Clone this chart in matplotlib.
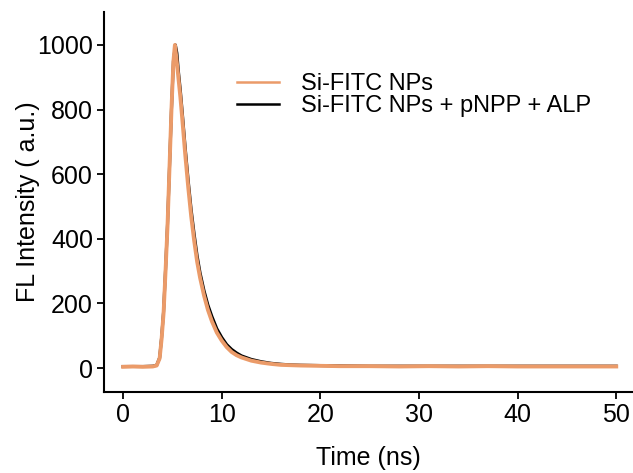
import matplotlib
matplotlib.use("Agg")
import matplotlib.pyplot as plt

plt.rcParams['font.family'] = ['Liberation Sans', 'DejaVu Sans']

# Time axis (ns)
t_orange = [0, 1, 2, 3, 3.4, 3.7, 3.9, 4.1, 4.3, 4.5, 4.7, 4.9, 5.1, 5.25, 5.4, 5.6,
            5.8, 6.0, 6.3, 6.6, 6.9, 7.2, 7.5, 7.8, 8.2, 8.6, 9.0, 9.5, 10, 10.5, 11,
            11.5, 12, 13, 14, 15, 16, 17, 18, 20, 22, 25, 28, 31, 34, 37, 40, 43, 46, 49, 50]
y_orange = [4, 5, 4, 5, 8, 30, 90, 170, 300, 440, 620, 800, 950, 1000, 960, 900,
            840, 770, 660, 560, 470, 395, 330, 280, 225, 180, 145, 110, 85, 65, 50,
            40, 33, 23, 17, 13, 10, 9, 8, 7, 6, 6, 5, 6, 5, 6, 5, 5, 5, 5, 5]

t_black = [0, 1, 2, 3, 3.4, 3.7, 3.9, 4.1, 4.3, 4.5, 4.7, 4.9, 5.1, 5.3, 5.45, 5.6,
           5.8, 6.0, 6.3, 6.6, 6.9, 7.2, 7.5, 7.8, 8.2, 8.6, 9.0, 9.5, 10, 10.5, 11,
           11.5, 12, 13, 14, 15, 16, 17, 18, 20, 22, 25, 28, 31, 34, 37, 40, 43, 46, 49, 50]
y_black = [5, 5, 5, 6, 9, 32, 95, 175, 305, 445, 620, 800, 950, 1000, 975, 920,
           860, 790, 680, 580, 490, 415, 348, 295, 240, 195, 160, 122, 95, 73, 58,
           47, 38, 27, 20, 15, 12, 10, 9, 8, 7, 6, 6, 6, 6, 6, 6, 6, 6, 6, 6]

x_ticks = [0, 10, 20, 30, 40, 50]
y_ticks = [0, 200, 400, 600, 800, 1000]

fig = plt.figure(figsize=(6.33, 4.73), dpi=100)
ax = fig.add_axes([0.1643, 0.1712, 0.8357, 0.8034])

ax.plot(t_black, y_black, color='black', lw=2.2, label='Si-FITC NPs + pNPP + ALP', zorder=2)
ax.plot(t_orange, y_orange, color='#EB9B69', lw=2.8, label='Si-FITC NPs', zorder=3)

ax.set_xlim(-1.94, 51.7)
ax.set_ylim(-74, 1102)
ax.set_xticks(x_ticks)
ax.set_yticks(y_ticks)

for s in ['top', 'right']:
    ax.spines[s].set_visible(False)
for s in ['left', 'bottom']:
    ax.spines[s].set_linewidth(1.5)
ax.tick_params(axis='both', which='major', labelsize=18, width=1.3, length=5, pad=3)

ax.set_xlabel('Time (ns)', fontsize=18, labelpad=13.5)
ax.set_ylabel('FL Intensity ( a.u.)', fontsize=18, labelpad=-2)

handles, labels = ax.get_legend_handles_labels()
leg = ax.legend(handles[::-1], labels[::-1], loc='upper left',
                bbox_to_anchor=(237 / 633, 1 - 73 / 473), bbox_transform=fig.transFigure,
                frameon=False, fontsize=17, handlelength=1.78, handletextpad=0.93,
                labelspacing=0.0, borderaxespad=0, borderpad=0)
for h in leg.get_lines():
    h.set_linewidth(1.8)

fig.savefig('out.png', dpi=100)
